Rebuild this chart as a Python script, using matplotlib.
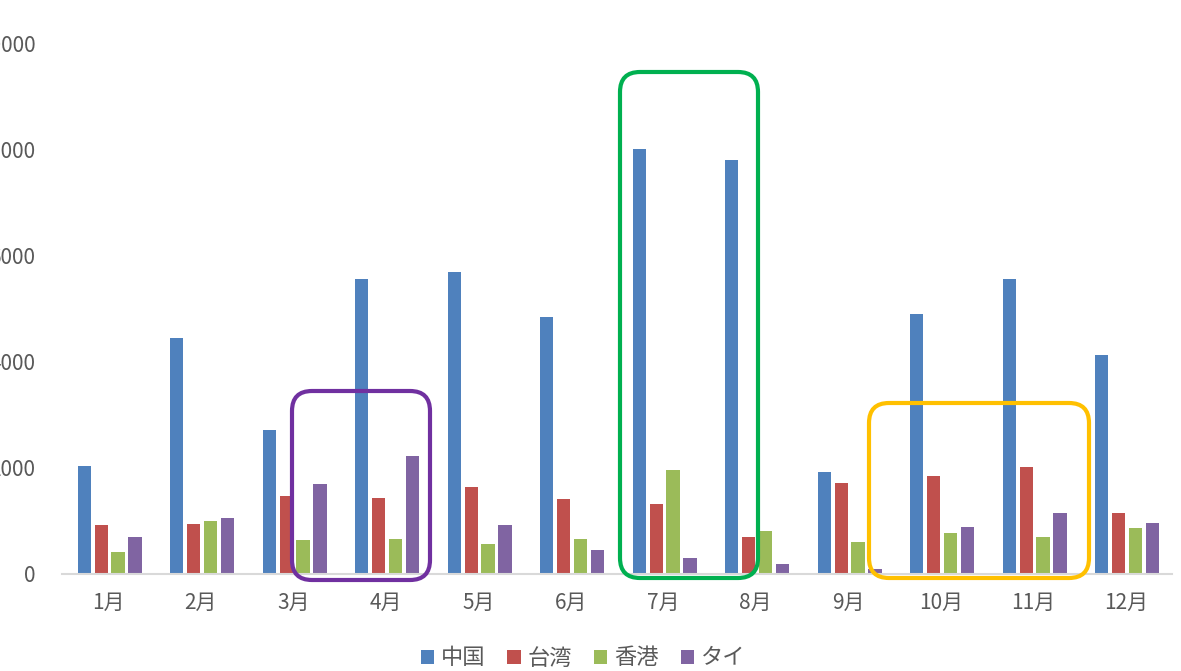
import numpy as np
import matplotlib
matplotlib.use("Agg")
import matplotlib.pyplot as plt
from matplotlib.patches import FancyBboxPatch

plt.rcParams['font.family'] = ['Noto Sans CJK JP', 'DejaVu Sans']

# data
months = ["1月", "2月", "3月", "4月", "5月", "6月", "7月", "8月", "9月", "10月", "11月", "12月"]
china = [2040, 4450, 2720, 5570, 5700, 4850, 8020, 7810, 1930, 4910, 5570, 4130]
taiwan = [930, 940, 1470, 1430, 1640, 1420, 1320, 700, 1720, 1850, 2020, 1150]
hongkong = [420, 1000, 640, 660, 570, 660, 1960, 810, 600, 770, 700, 870]
thai = [700, 1060, 1700, 2230, 930, 450, 300, 190, 90, 890, 1150, 960]
series_names = ["中国", "台湾", "香港", "タイ"]
yticks = [0, 2000, 4000, 6000, 8000, 10000]

colors = ["#4F81BD", "#C0504D", "#9BBB59", "#8064A2"]
W, H = 1181, 671

fig = plt.figure(figsize=(W / 100, H / 100), dpi=100)
fig.patch.set_facecolor("white")
ax = fig.add_axes([62 / W, (H - 574) / H, 1110 / W, 530 / H])
ax.set_facecolor("none")

x = np.arange(len(months))
step = 0.183
bw = 0.144
for i, (vals, name) in enumerate(zip([china, taiwan, hongkong, thai], series_names)):
    ax.bar(x + (i - 1.5) * step + 0.015, vals, width=bw, color=colors[i],
           label=name, zorder=2)

ax.set_xlim(-0.5, 11.5)
ax.set_ylim(0, 10000)
ax.set_xticks(x)
ax.set_xticklabels(months)
ax.set_yticks(yticks)
ax.set_yticklabels([str(v) for v in yticks])
ax.tick_params(length=0, labelsize=15, labelcolor="#595959")
ax.tick_params(axis="x", pad=13)
ax.tick_params(axis="y", pad=19)
for s in ["top", "right", "left"]:
    ax.spines[s].set_visible(False)
ax.spines["bottom"].set_color("#D9D9D9")
ax.spines["bottom"].set_linewidth(1.5)

fig.legend(loc="center", bbox_to_anchor=(583 / W, (H - 658) / H), ncol=4,
           frameon=False, handlelength=0.6, handleheight=0.6,
           handletextpad=0.3, columnspacing=1.0, fontsize=16,
           labelcolor="#595959")

# highlight boxes drawn in pixel space on an overlay
ov = fig.add_axes([0, 0, 1, 1])
ov.set_xlim(0, W)
ov.set_ylim(H, 0)
ov.axis("off")
ov.patch.set_alpha(0)
boxes = [(292, 391, 430, 580, "#7030A0"),
         (620, 72, 758, 578, "#00B050"),
         (869, 403, 1089, 578, "#FFC000")]
for x0, y0, x1, y1, c in boxes:
    r = 20
    p = FancyBboxPatch((x0 + r, y0 + r), (x1 - x0) - 2 * r, (y1 - y0) - 2 * r,
                       boxstyle="round,pad=%d" % r, fill=False,
                       edgecolor=c, linewidth=3.0)
    ov.add_patch(p)

fig.savefig("out.png", dpi=100)
